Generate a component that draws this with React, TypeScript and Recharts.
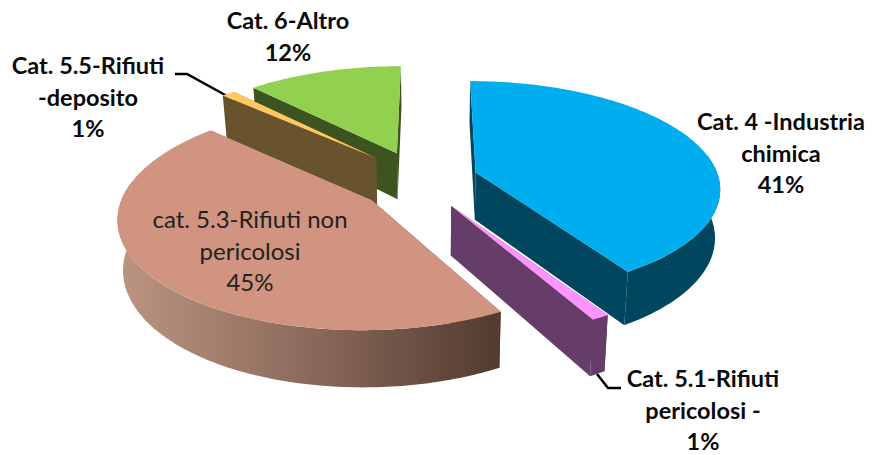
import React from 'react';
import { PieChart, Pie } from 'recharts';

// drawn in this order so the nearer slices cover the farther ones
const CATEGORIES = [
  'Cat. 4 - Industria chimica',
  'Cat. 6 - Altro',
  'Cat. 5.5 - Rifiuti deposito',
  'cat. 5.3 - Rifiuti non pericolosi',
  'Cat. 5.1 - Rifiuti pericolosi',
];
const VALUES = [41, 12, 1, 45, 1];
const LABEL_LINES = [
  ['Cat. 4 -Industria', 'chimica'],
  ['Cat. 6-Altro'],
  ['Cat. 5.5-Rifiuti', '-deposito'],
  ['cat. 5.3-Rifiuti non', 'pericolosi'],
  ['Cat. 5.1-Rifiuti', 'pericolosi -'],
];

const data = CATEGORIES.map((name, i) => ({ name, value: VALUES[i] }));

const TOP_COLORS = ['#00aeef', '#92d050', '#ffc95f', '#d09480', '#ff94ff'];
const SIDE_COLORS = ['#00465f', '#3d5420', '#69532d', '#5f4438', '#663c68'];
const OUTER_COLORS = ['#00465f', '#3d5420', '#69532d', 'url(#wall53)', '#663c68'];
// explosion of each slice, in radii, across and into the picture
const EXPLODE = [
  [0.185, 0.11],
  [-0.145, 0.3],
  [-0.232, 0.25],
  [-0.238, -0.146],
  [0.08, -0.2],
];
const LABEL_POS = [
  [781, 122],
  [288, 21],
  [88, 66],
  [250, 220],
  [703, 379],
];
const LABEL_STEP = 31.5;

const PERSPECTIVE = 0.14;
const HORIZON = 765;
const THICKNESS = 48;
const LEAN = 0.018;

function path(points: number[][]) {
  return 'M' + points.map((p) => p[0].toFixed(1) + ' ' + p[1].toFixed(1)).join('L') + 'Z';
}

function Slice3D(props: any) {
  const { cx, cy, outerRadius, startAngle, endAngle, name } = props;
  const i = CATEGORIES.indexOf(name);
  const [eu, ev] = EXPLODE[i];

  const project = (u: number, v: number) => {
    const s = 1 / (1 + PERSPECTIVE * v);
    return [cx + outerRadius * u * s, cy - HORIZON + HORIZON * s, s];
  };
  const onRim = (deg: number) => {
    const a = (deg * Math.PI) / 180;
    return project(eu + Math.sin(a), ev + Math.cos(a));
  };
  const drop = (p: number[]) => [p[0] + (cx - p[0]) * LEAN, p[1] + THICKNESS * p[2]];

  const from = 90 - Math.max(startAngle, endAngle);
  const to = 90 - Math.min(startAngle, endAngle);
  const t0 = (from + 360) % 360;
  const t1 = t0 + (to - from);

  const sample = (a: number, b: number) => {
    const pts = [];
    const n = Math.max(2, Math.ceil(b - a));
    for (let k = 0; k <= n; k++) pts.push(onRim(a + ((b - a) * k) / n));
    return pts;
  };

  const apex = project(eu, ev);
  const rim = sample(t0, t1);
  const first = rim[0];
  const last = rim[rim.length - 1];

  const wallFrom = Math.max(t0, 80);
  const wallTo = Math.min(t1, 280);
  const wall = wallTo > wallFrom ? sample(wallFrom, wallTo) : null;

  return (
    <g>
      <path d={path([apex, first, drop(first), drop(apex)])} fill={SIDE_COLORS[i]} />
      <path d={path([apex, last, drop(last), drop(apex)])} fill={SIDE_COLORS[i]} />
      {wall && (
        <path d={path([...wall, ...wall.map(drop).reverse()])} fill={OUTER_COLORS[i]} />
      )}
      <path d={path([apex, ...rim])} fill={TOP_COLORS[i]} />
    </g>
  );
}

function SliceLabel(props: any) {
  const i = CATEGORIES.indexOf(props.name);
  const [x, y] = LABEL_POS[i];
  const lines = [...LABEL_LINES[i], props.value + '%'];
  const plain = i === 3;
  return (
    <text
      x={x}
      y={y}
      textAnchor="middle"
      fontFamily="Lato, sans-serif"
      fontSize={plain ? 24 : 23.5}
      fontWeight={plain ? 400 : 700}
      fill={plain ? '#222222' : '#0a0a0a'}
    >
      {lines.map((line, k) => (
        <tspan key={k} x={x} y={y + 8 + k * LABEL_STEP}>
          {line}
        </tspan>
      ))}
    </text>
  );
}

function App() {
  return (
    <div style={{ position: 'absolute', left: 0, top: 0 }}>
      <PieChart width={877} height={455} margin={{ top: 0, right: 0, bottom: 0, left: 0 }}>
        <defs>
          <linearGradient id="wall53" x1="0" y1="0" x2="1" y2="0">
            <stop offset="0%" stopColor="#bd9582" />
            <stop offset="50%" stopColor="#8b6a5b" />
            <stop offset="100%" stopColor="#523a30" />
          </linearGradient>
        </defs>
        <Pie
          data={data}
          dataKey="value"
          nameKey="name"
          cx={431}
          cy={184}
          outerRadius={245}
          startAngle={90 - VALUES[0] * 3.6}
          endAngle={90 - VALUES[0] * 3.6 + 360}
          stroke="none"
          shape={Slice3D}
          label={SliceLabel}
          labelLine={false}
          isAnimationActive={false}
        />
        <polyline points="175,74 187,74 227,96" fill="none" stroke="#000" strokeWidth={2.5} />
        <polyline points="597,374 608,388 621,388" fill="none" stroke="#000" strokeWidth={2.5} />
      </PieChart>
    </div>
  );
}

export default App;
